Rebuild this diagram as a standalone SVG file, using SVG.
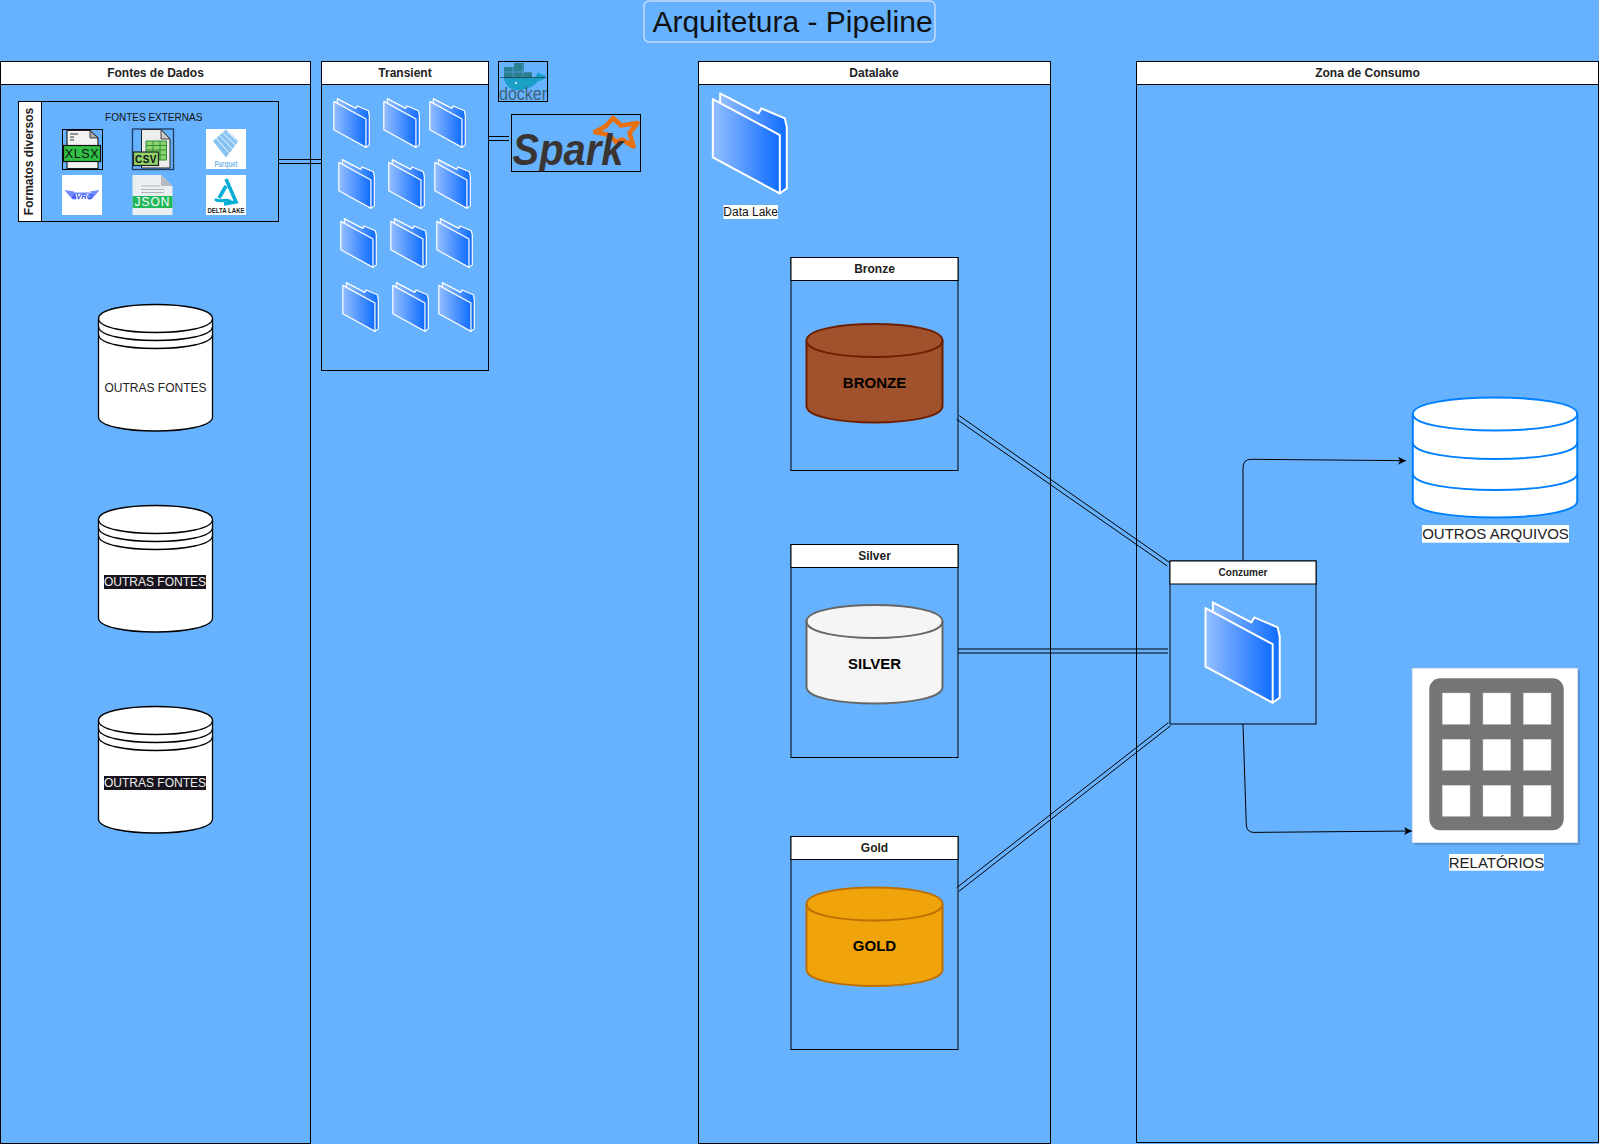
<svg xmlns="http://www.w3.org/2000/svg" width="1599" height="1144" viewBox="0 0 1599 1144">
<style>
text{font-family:"Liberation Sans",Arial,sans-serif;fill:#111;text-anchor:middle}
.b{fill:none;stroke:#000;stroke-width:1}
.h{fill:#fff;stroke:#000;stroke-width:1}
.t{font-weight:700;font-size:12px;fill:#222}
.l{font-size:12px}
.m{font-size:15px;fill:#222}
.cn{font-weight:700;font-size:15px;fill:#000}
.lk{fill:none;stroke:#000;stroke-width:1}
.w{fill:#fff}
.k{fill:#fff;stroke:#000;stroke-width:1.3}
.kc{fill:none;stroke:#000;stroke-width:1.3}
.fp{fill:url(#fg);stroke:#fff;stroke-linejoin:round;vector-effect:non-scaling-stroke}
.sm{stroke-width:1.2}
.bg{stroke-width:2}
.cell{fill:#fff;stroke:#ccc;stroke-width:.5}
</style>
<defs>
<linearGradient id="fg" x1="0" y1="0" x2="1" y2="0"><stop offset="0" stop-color="#94bfff"/><stop offset="1" stop-color="#0f6cff"/></linearGradient>
<clipPath id="spclip"><rect x="511.500" y="114.500" width="129" height="57"/></clipPath>
<symbol id="folder" viewBox="0 0 222 302" preserveAspectRatio="none" overflow="visible">
<path class="fp" d="M22,2 L137,62 L146,47 L216,77 L222,104 L222,287 L201,302 L22,200 Z"/>
<path class="fp" d="M0,19 L201,127 L201,302 L0,194 Z"/>
</symbol>
<g id="oldcyl">
<path class="k" d="M0,14 C0,-4.67 114,-4.67 114,14 V112.5 C114,131.17 0,131.17 0,112.5 Z"/>
<path class="kc" d="M0,14 C0,32.67 114,32.67 114,14 M0,22 C0,40.67 114,40.67 114,22 M0,30 C0,48.67 114,48.67 114,30"/>
</g>
<marker id="ar" markerUnits="userSpaceOnUse" markerWidth="10" markerHeight="10" refX="8" refY="4" orient="auto" overflow="visible"><path d="M0,0 L8,4 L0,8 L2,4 Z" fill="#000"/></marker>
</defs>
<rect width="1599" height="1144" fill="#66b2ff"/>

<g id="title">
<rect x="644" y="1" width="291" height="41" rx="5" fill="none" stroke="#c4ddfb" stroke-width="1.5"/>
<text x="792.500" y="32" font-size="30">Arquitetura - Pipeline</text>
</g>

<g id="connectors">
<path class="lk" d="M278.5,159.5H321.5M278.5,163.5H321.5"/>
<path class="lk" d="M488.5,136.5H509M488.5,140.5H509"/>
<path class="lk" d="M959.3,415.7L1169.3,562.3M956.7,419.3L1167.3,566"/>
<path class="lk" d="M958,649H1168M958,653H1168"/>
<path class="lk" d="M956.7,887.7L1168.3,722.7M959,891.3L1170.7,725.7"/>
<path class="lk" marker-end="url(#ar)" d="M1243,561 V468 Q1243,459.3 1251,459.3 L1406,460.7"/>
<path class="lk" marker-end="url(#ar)" d="M1243,724 L1246.3,825 Q1246.6,832.4 1254,832.4 L1412,831"/>
</g>

<g id="fontes">
<rect class="b" x="0.5" y="61.5" width="310" height="1082"/>
<rect class="h" x="0.5" y="61.5" width="310" height="23"/>
<text class="t" x="155.5" y="76.7">Fontes de Dados</text>
</g>
<g id="formatos">
<rect class="b" x="18.5" y="101.5" width="260" height="120"/>
<rect class="h" x="18.5" y="101.5" width="23" height="120"/>
<text class="t" transform="translate(33.2,161.5) rotate(-90)">Formatos diversos</text>
<text x="153.7" y="121" font-size="10">FONTES EXTERNAS</text>
</g>
<g id="icon-xlsx">
<path d="M67,130.5H90L98,138V168.5H67Z" fill="#f2f2f2" stroke="#222" stroke-width="1.2"/>
<path d="M90,130.5V138H98Z" fill="#aaa" stroke="#222" stroke-width=".8"/>
<path d="M70,134H78M70,137H74M70,140H74" stroke="#333" stroke-width="1"/>
<rect x="63.5" y="145.5" width="37" height="16" fill="#2fbf44" stroke="#111" stroke-width="1.2"/>
<text x="82" y="158" font-size="12.5" letter-spacing=".6">XLSX</text>
<rect class="b" x="62.5" y="129.5" width="40" height="40"/>
</g>
<g id="icon-csv">
<path d="M141.5,129.5H161L170,139V168H141.5Z" fill="#ededed" stroke="#222"/>
<path d="M161,129.5V139H170Z" fill="#ccc" stroke="#222" stroke-width=".8"/>
<path d="M146,141H166.5V160H146ZM146,145.5H166.5M146,150H166.5M146,155H166.5M153,141V160M160,141V160" fill="#8fd36a" stroke="#2c8f3a" stroke-width="1"/>
<rect x="133.5" y="152" width="25" height="13.5" fill="#8fd36a" stroke="#222" stroke-width="1.2"/>
<text x="146" y="162.7" font-size="10" font-weight="700" letter-spacing=".5">CSV</text>
<rect x="132.5" y="129" width="41" height="40.5" fill="none" stroke="#1f3a5c" stroke-width="1.3"/>
</g>
<g id="icon-parquet">
<rect class="w" x="206" y="129" width="40" height="40"/>
<path d="M213,141L226,129.500L238.500,141L226,157.500Z" fill="#86c2f2"/>
<path d="M216,138L230,154M219.500,135.500L233.500,150M223,133L236.500,146M226.500,131L238,142" stroke="#fff" stroke-width=".9"/>
<text x="226" y="167" font-size="9" font-weight="700" textLength="23" lengthAdjust="spacingAndGlyphs" style="fill:#79b8ea">Parquet</text>
</g>
<g id="icon-avro">
<rect class="w" x="62" y="175" width="40" height="40"/>
<path d="M64.500,190L74,191.500L76,199.500H73L69,195.500ZM99.500,190L90,191.500L88,199.500H91L95,195.500ZM72,192.500H92L89,194H75Z" fill="#6f8aff"/>
<text x="82" y="198.500" font-size="7.500" font-weight="700" font-style="italic" style="fill:#3350f0">AVRO</text>
</g>
<g id="icon-json">
<path d="M132.5,175H161L172.5,186V215H132.5Z" fill="#eceff1"/>
<path d="M161,175V186H172.5Z" fill="#b5bac0"/>
<path d="M141,186H160M141,189.500H164M141,192.500H164" stroke="#b0b5bb" stroke-width="1"/>
<rect x="132.500" y="196" width="40" height="12" fill="#21b85b"/>
<text x="152.500" y="206" font-size="12" letter-spacing="1" style="fill:#fff">JSON</text>
</g>
<g id="icon-delta">
<rect class="w" x="206" y="175" width="40" height="40"/>
<path d="M226,179L236,202L224,204M226,186L219,198" fill="none" stroke="#00add4" stroke-width="3.500"/>
<path d="M215,199C220,204 226,197 231,202" fill="none" stroke="#00add4" stroke-width="3"/>
<text x="226" y="212.700" font-size="7" font-weight="700" textLength="37" lengthAdjust="spacingAndGlyphs" style="fill:#222">DELTA LAKE</text>
</g>

<g id="cyl-1">
<use href="#oldcyl" x="98.500" y="304.500"/>
<text class="l" x="155.500" y="391.700" style="fill:#222">OUTRAS FONTES</text>
</g>
<g id="cyl-2">
<use href="#oldcyl" x="98.500" y="505.500"/>
<rect x="104" y="575" width="102" height="14" fill="#18141d"/>
<text class="l" x="155" y="586" style="fill:#eee">OUTRAS FONTES</text>
</g>
<g id="cyl-3">
<use href="#oldcyl" x="98.500" y="706.500"/>
<rect x="104" y="776" width="102" height="14" fill="#18141d"/>
<text class="l" x="155" y="787" style="fill:#eee">OUTRAS FONTES</text>
</g>

<g id="transient">
<rect class="b" x="321.500" y="61.500" width="167" height="309"/>
<rect class="h" x="321.500" y="61.500" width="167" height="23"/>
<text class="t" x="405" y="76.700">Transient</text>
<g class="sm">
<use href="#folder" x="333.800" y="98.300" width="35.500" height="49"/>
<use href="#folder" x="383.800" y="98.300" width="35.500" height="49"/>
<use href="#folder" x="429.800" y="98.300" width="35.500" height="49"/>
<use href="#folder" x="338.800" y="159.300" width="35.500" height="49"/>
<use href="#folder" x="388.800" y="159.300" width="35.500" height="49"/>
<use href="#folder" x="434.800" y="159.300" width="35.500" height="49"/>
<use href="#folder" x="340.800" y="218.300" width="35.500" height="49"/>
<use href="#folder" x="390.800" y="218.300" width="35.500" height="49"/>
<use href="#folder" x="436.800" y="218.300" width="35.500" height="49"/>
<use href="#folder" x="342.800" y="282.300" width="35.500" height="49"/>
<use href="#folder" x="392.800" y="282.300" width="35.500" height="49"/>
<use href="#folder" x="438.800" y="282.300" width="35.500" height="49"/>
</g>
</g>

<g id="docker">
<path d="M504,67H514V63H524V72H532V78H504Z" fill="#2a7f90"/>
<path d="M504,72H532M513,64V78M523,64V78" stroke="#66b2ff" stroke-width=".5"/>
<path d="M504,78H532C535,78 537,75 538,72C540,75 543,74 546,76C544,80 541,81 538,81C534,87 526,90 517,90C510,90 505,85 504,78Z" fill="#1a9fc6"/>
<path d="M500,77.500H546" stroke="#1c3a44" stroke-width=".7"/>
<circle cx="516" cy="83" r="1" fill="#fff"/>
<text x="523" y="100" font-size="18" textLength="48" lengthAdjust="spacingAndGlyphs" style="fill:#3f6175">docker</text>
<rect class="b" x="498.500" y="61.500" width="49" height="40"/>
</g>
<g id="spark">
<rect class="b" x="511.500" y="114.500" width="129" height="57"/>
<path d="M613,118L621,125.500L637.500,123L629.500,133L633.500,146.500L622,139.500L616,142L609,135L595,132L606,126Z" fill="none" stroke="#e8700f" stroke-width="4.500" stroke-linejoin="round"/>
<g clip-path="url(#spclip)"><text x="568" y="165" font-size="44" font-weight="700" font-style="italic" textLength="111" lengthAdjust="spacingAndGlyphs" style="fill:#3a3532">Spark</text></g>
</g>

<g id="datalake">
<rect class="b" x="698.500" y="61.500" width="352" height="1082"/>
<rect class="h" x="698.500" y="61.500" width="352" height="23"/>
<text class="t" x="874" y="76.700">Datalake</text>
<g class="bg"><use href="#folder" x="712.800" y="92.700" width="74" height="100.700"/></g>
<rect class="w" x="723.500" y="205" width="54.500" height="14"/>
<text class="l" x="750.700" y="215.700">Data Lake</text>
</g>

<g id="bronze">
<rect class="b" x="791" y="257.500" width="167" height="213"/>
<rect class="h" x="791" y="257.500" width="167" height="23"/>
<text class="t" x="874.500" y="272.700">Bronze</text>
<path d="M806.500,340.500 C806.500,318.500 942.500,318.500 942.500,340.500 V406 C942.500,428 806.500,428 806.500,406 Z" fill="#a0522d" stroke="#6d1f00" stroke-width="2"/>
<path d="M806.500,340.500 C806.500,362.500 942.500,362.500 942.500,340.500" fill="none" stroke="#6d1f00" stroke-width="2"/>
<text class="cn" x="874.500" y="387.700">BRONZE</text>
</g>
<g id="silver">
<rect class="b" x="791" y="544.500" width="167" height="213"/>
<rect class="h" x="791" y="544.500" width="167" height="23"/>
<text class="t" x="874.500" y="559.700">Silver</text>
<path d="M806.500,621.500 C806.500,599.500 942.500,599.500 942.500,621.500 V687 C942.500,709 806.500,709 806.500,687 Z" fill="#f5f5f5" stroke="#666" stroke-width="2"/>
<path d="M806.500,621.500 C806.500,643.500 942.500,643.500 942.500,621.500" fill="none" stroke="#666" stroke-width="2"/>
<text class="cn" x="874.500" y="668.700">SILVER</text>
</g>
<g id="gold">
<rect class="b" x="791" y="836.500" width="167" height="213"/>
<rect class="h" x="791" y="836.500" width="167" height="23"/>
<text class="t" x="874.500" y="851.700">Gold</text>
<path d="M806.500,904 C806.500,882 942.500,882 942.500,904 V969.500 C942.500,991.500 806.500,991.500 806.500,969.500 Z" fill="#f0a30a" stroke="#bd7000" stroke-width="2"/>
<path d="M806.500,904 C806.500,926 942.500,926 942.500,904" fill="none" stroke="#bd7000" stroke-width="2"/>
<text class="cn" x="874.500" y="950.700">GOLD</text>
</g>

<g id="zona">
<rect class="b" x="1136.500" y="61.500" width="462" height="1081"/>
<rect class="h" x="1136.500" y="61.500" width="462" height="23"/>
<text class="t" x="1367.500" y="76.700">Zona de Consumo</text>
</g>
<g id="conzumer">
<rect class="b" x="1170" y="561" width="146" height="163"/>
<rect class="h" x="1170" y="561" width="146" height="23"/>
<text x="1243" y="575.700" font-size="10" font-weight="700" style="fill:#222">Conzumer</text>
<g class="bg"><use href="#folder" x="1205.500" y="601.700" width="74.200" height="101"/></g>
</g>
<g id="outros">
<path d="M1412.800,414 C1412.800,392 1577.300,392 1577.300,414 V501 C1577.300,523 1412.800,523 1412.800,501 Z" fill="#fff" stroke="#007fff" stroke-width="2"/>
<path d="M1412.800,414 C1412.800,436 1577.300,436 1577.300,414 M1412.800,442.500 C1412.800,464.500 1577.300,464.500 1577.300,442.500 M1412.800,473.500 C1412.800,495.500 1577.300,495.500 1577.300,473.500" fill="none" stroke="#007fff" stroke-width="2"/>
<rect class="w" x="1422" y="525" width="147" height="17.700"/>
<text class="m" x="1495.500" y="539">OUTROS ARQUIVOS</text>
</g>
<g id="relatorios">
<rect x="1414.300" y="670.300" width="165.400" height="174.400" fill="#4f8fd6"/>
<rect x="1412.300" y="668.300" width="165.400" height="174.400" fill="#fff" stroke="#ddd" stroke-width=".7"/>
<rect x="1429.300" y="678.300" width="134.400" height="152" rx="11" fill="#757575"/>
<rect class="cell" x="1442.300" y="693" width="27.700" height="31.300"/>
<rect class="cell" x="1483" y="693" width="27.700" height="31.300"/>
<rect class="cell" x="1523.300" y="693" width="27.700" height="31.300"/>
<rect class="cell" x="1442.300" y="739.300" width="27.700" height="31"/>
<rect class="cell" x="1483" y="739.300" width="27.700" height="31"/>
<rect class="cell" x="1523.300" y="739.300" width="27.700" height="31"/>
<rect class="cell" x="1442.300" y="785.300" width="27.700" height="31"/>
<rect class="cell" x="1483" y="785.300" width="27.700" height="31"/>
<rect class="cell" x="1523.300" y="785.300" width="27.700" height="31"/>
<rect class="w" x="1449" y="854" width="95" height="16.700"/>
<text class="m" x="1496.500" y="868.300">RELATÓRIOS</text>
</g>
</svg>
